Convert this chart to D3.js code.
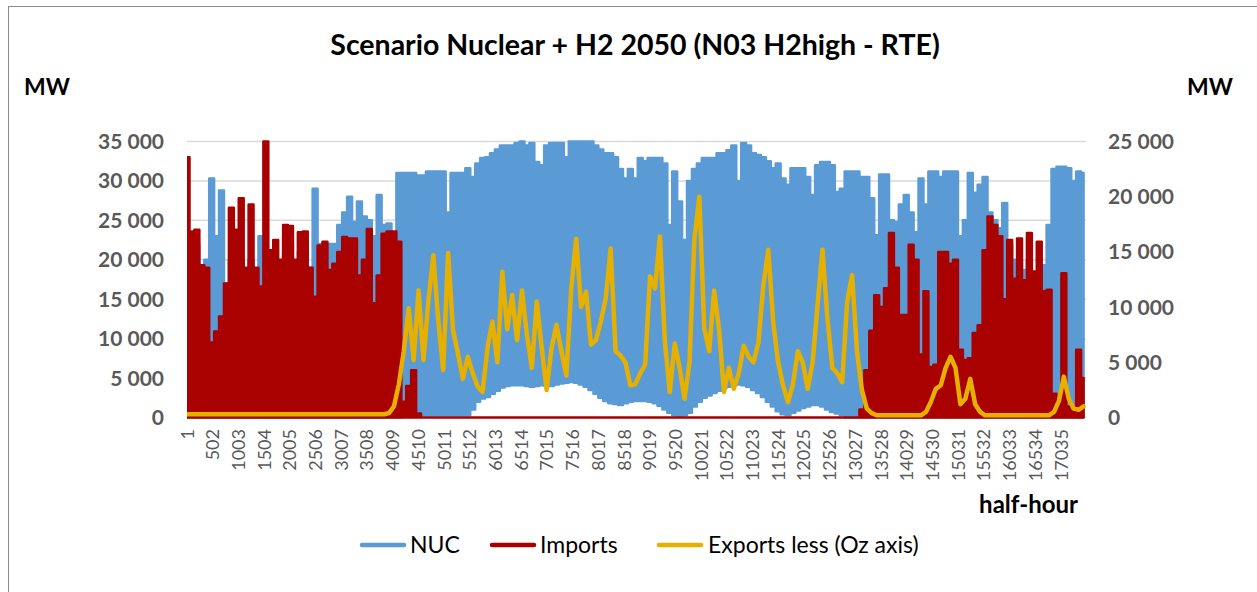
<!DOCTYPE html>
<html>
<head>
<meta charset="utf-8">
<script src="https://cdn.jsdelivr.net/npm/d3@7"></script>
<style>
  body { margin: 0; background: #fff; }
  svg { display: block; font-family: Lato, "Open Sans", sans-serif; }
</style>
</head>
<body>
<svg id="chart" width="1257" height="592"></svg>
<script>
// values, one sample every 96 half-hours (2 days)
const sampleStep = 96;
const nucMax = [
  22000, 22000, 22000, 19000, 20000, 30300, 23000, 28800, 17000, 20000,
  20000, 20000, 18000, 20000, 18000, 23000, 20000, 20000, 20000, 19000,
  21000, 22000, 19000, 21000, 22000, 19000, 29000, 22000, 22000, 22000,
  22000, 24400, 26000, 28000, 24800, 27400, 25500, 25000, 23000, 28200,
  24400, 24600, 22000, 31000, 31000, 31000, 31000, 30700, 30700, 31200,
  31200, 31200, 31200, 26000, 31000, 31000, 31000, 31600, 30500, 32200,
  32900, 33000, 33500, 34000, 34500, 34500, 34500, 34800, 35000, 34500,
  34800, 32400, 32000, 34500, 34800, 34800, 34800, 33000, 35000, 35000,
  35000, 35000, 35000, 34500, 34000, 33500, 33500, 33000, 31500, 30300,
  31500, 30300, 32900, 32500, 32900, 32900, 32900, 32200, 24400, 31200,
  27400, 22500, 30000, 31500, 32200, 32900, 32900, 32900, 33500, 33500,
  33900, 34500, 30000, 34800, 34500, 33500, 33300, 33000, 32500, 31600,
  32200, 30300, 29500, 31600, 31600, 31600, 30500, 28200, 32000, 32400,
  32400, 32000, 28600, 29000, 31200, 31200, 31200, 30500, 30500, 27800,
  23100, 30800, 30800, 25000, 24800, 27000, 28200, 26000, 23500, 30300,
  27000, 31200, 31200, 30500, 31200, 31200, 31200, 23000, 25000, 31000,
  28500, 29500, 30500, 26000, 25000, 24000, 27200, 22000, 20000, 20000,
  18700, 20000, 18000, 17000, 19300, 24400, 31500, 31800, 31800, 31600,
  30000, 31200, 31000
];
const nucMin = [
  0, 0, 0, 0, 0, 0, 0, 0, 0, 0,
  0, 0, 0, 0, 0, 0, 0, 0, 0, 0,
  0, 0, 0, 0, 0, 0, 0, 0, 0, 0,
  0, 0, 0, 0, 0, 0, 0, 0, 0, 0,
  0, 0, 0, 0, 300, 300, 300, 300, 300, 300,
  300, 300, 300, 300, 300, 300, 300, 300, 1000, 2000,
  2400, 2600, 3000, 3400, 3800, 4000, 4100, 4100, 4100, 4000,
  3900, 4000, 4100, 4000, 4000, 4200, 4300, 4400, 4500, 4400,
  4200, 3900, 3500, 3000, 2500, 2100, 1800, 1700, 1600, 1800,
  2000, 2100, 2100, 2100, 2000, 1800, 1500, 1000, 600, 300,
  200, 300, 600, 1400, 2000, 2500, 2800, 3100, 3400, 3700,
  3900, 4100, 4200, 4100, 3900, 3500, 3100, 2600, 2000, 1400,
  800, 400, 300, 600, 900, 1200, 1400, 1600, 1600, 1400,
  1000, 700, 500, 300, 0, 0, 0, 0, 0, 0,
  0, 0, 0, 0, 0, 0, 0, 0, 0, 0,
  0, 0, 0, 0, 0, 0, 0, 0, 0, 0,
  0, 0, 0, 0, 0, 0, 0, 0, 0, 0,
  0, 0, 0, 0, 0, 0, 0, 0, 0, 0,
  0, 0, 0
];
const imports = [
  33000, 23600, 23800, 19300, 19000, 9500, 10900, 12800, 17000, 26600,
  23800, 27800, 19000, 27000, 19000, 16600, 35000, 21200, 22500, 20000,
  24400, 24300, 20000, 23500, 23600, 19000, 15300, 21800, 22300, 18700,
  19500, 21000, 22900, 22700, 22700, 18000, 20000, 23900, 14500, 18000,
  23300, 23600, 23600, 22300, 2000, 4000, 6000, 500, 0, 0,
  0, 0, 0, 0, 0, 0, 0, 0, 0, 0,
  0, 0, 0, 0, 0, 0, 0, 0, 0, 0,
  0, 0, 0, 0, 0, 0, 0, 0, 0, 0,
  0, 0, 0, 0, 0, 0, 0, 0, 0, 0,
  0, 0, 0, 0, 0, 0, 0, 0, 0, 0,
  0, 0, 0, 0, 0, 0, 0, 0, 0, 0,
  0, 0, 0, 0, 0, 0, 0, 0, 0, 0,
  0, 0, 0, 0, 0, 0, 0, 0, 0, 0,
  0, 0, 0, 0, 0, 0, 0, 1000, 6000, 11000,
  15500, 14000, 16400, 23400, 19000, 13000, 13000, 21900, 20000, 8000,
  16000, 6400, 6700, 21000, 21000, 19500, 20000, 8600, 7300, 7500,
  10700, 11700, 21200, 25500, 24400, 23000, 15000, 22500, 17600, 22700,
  17400, 23400, 18500, 22300, 16000, 16200, 3000, 2000, 18300, 1400,
  1000, 8600, 5000
];
const exportsLess = [
  300, 300, 300, 300, 300, 300, 300, 300, 300, 300,
  300, 300, 300, 300, 300, 300, 300, 300, 300, 300,
  300, 300, 300, 300, 300, 300, 300, 300, 300, 300,
  300, 300, 300, 300, 300, 300, 300, 300, 300, 300,
  300, 400, 1000, 3000, 6000, 9900, 5200, 11500, 5200, 10600,
  14700, 8800, 4300, 14900, 7900, 5800, 3500, 5500, 4000, 2800,
  2300, 6300, 8700, 5000, 13200, 8000, 11100, 7000, 11500, 7500,
  4500, 10500, 6300, 2500, 6300, 8400, 6000, 3800, 11700, 16200,
  10000, 11400, 6600, 7000, 8700, 10800, 15300, 6000, 5600, 5000,
  2900, 3000, 4000, 4800, 12800, 11700, 16400, 6900, 2300, 6700,
  4500, 1700, 5000, 16200, 20000, 8100, 6000, 11500, 8000, 2300,
  4500, 2600, 4000, 6500, 5500, 5000, 6800, 12000, 15200, 8600,
  5000, 2900, 1400, 3000, 6000, 5000, 2600, 5000, 10200, 15200,
  9000, 4500, 4000, 3200, 10400, 12900, 6000, 2500, 800, 400,
  200, 200, 200, 200, 200, 200, 200, 200, 200, 200,
  500, 1400, 2600, 2900, 4500, 5500, 4500, 1200, 1700, 3500,
  1200, 500, 200, 200, 200, 200, 200, 200, 200, 200,
  200, 200, 200, 200, 200, 200, 500, 1500, 3700, 1700,
  800, 700, 1000
];
const xTicks = [
  1, 502, 1003, 1504, 2005, 2506, 3007, 3508, 4009, 4510, 5011, 5512,
  6013, 6514, 7015, 7516, 8017, 8518, 9019, 9520, 10021, 10522, 11023,
  11524, 12025, 12526, 13027, 13528, 14029, 14530, 15031, 15532, 16033,
  16534, 17035
];
const leftTicks = [0, 5000, 10000, 15000, 20000, 25000, 30000, 35000];
const rightTicks = [0, 5000, 10000, 15000, 20000, 25000];
const seriesNames = ["NUC", "Imports", "Exports less (Oz axis)"];
const colors = ["#5B9BD5", "#A90000", "#E6B000"];
const totalHalfHours = 17520;

const svg = d3.select("#chart");
const plotLeft = 187;
const plotRight = 1086;
const plotTop = 141.5;
const plotBottom = 417.5;

const fmt = d3.formatLocale({
  decimal: ",",
  thousands: " ",
  grouping: [3],
  currency: ["", ""],
}).format(",");

const rows = nucMax.map((d, i) => ({
  h: 1 + i * sampleStep,
  nucHi: d,
  nucLo: nucMin[i],
  imp: imports[i],
  exp: exportsLess[i],
}));

const xScale = d3
  .scaleLinear()
  .domain([0.5, totalHalfHours + 0.5])
  .range([plotLeft, plotRight]);
const yLeft = d3.scaleLinear().domain([0, 35000]).range([plotBottom, plotTop]);
const yRight = d3.scaleLinear().domain([0, 25000]).range([plotBottom, plotTop]);

// frame
svg
  .append("rect")
  .attr("x", 8.5)
  .attr("y", 6.5)
  .attr("width", 1400)
  .attr("height", 800)
  .attr("fill", "#fff")
  .attr("stroke", "#8c8c8c");

// gridlines
svg
  .append("g")
  .attr("class", "grid")
  .selectAll("line")
  .data(leftTicks)
  .enter()
  .append("line")
  .attr("x1", plotLeft)
  .attr("x2", plotRight)
  .attr("y1", (d) => yLeft(d))
  .attr("y2", (d) => yLeft(d))
  .attr("stroke", "#d9d9d9")
  .attr("stroke-width", 1.5);

svg
  .append("clipPath")
  .attr("id", "plot-clip")
  .append("rect")
  .attr("x", plotLeft)
  .attr("y", plotTop - 6)
  .attr("width", plotRight - plotLeft)
  .attr("height", plotBottom - plotTop + 12);

const plot = svg.append("g").attr("clip-path", "url(#plot-clip)");

const nucArea = d3
  .area()
  .x((d) => xScale(d.h))
  .y0((d) => yLeft(d.nucLo))
  .y1((d) => yLeft(d.nucHi))
  .curve(d3.curveStep);
plot
  .append("path")
  .datum(rows)
  .attr("d", nucArea)
  .attr("fill", colors[0])
  .attr("stroke", colors[0])
  .attr("stroke-width", 2.5)
  .attr("stroke-linejoin", "round");

const impArea = d3
  .area()
  .x((d) => xScale(d.h))
  .y0(yLeft(0))
  .y1((d) => yLeft(d.imp))
  .curve(d3.curveStep);
plot
  .append("path")
  .datum(rows)
  .attr("d", impArea)
  .attr("fill", colors[1])
  .attr("stroke", colors[1])
  .attr("stroke-width", 2.5)
  .attr("stroke-linejoin", "round");

const expLine = d3
  .line()
  .x((d) => xScale(d.h))
  .y((d) => yRight(d.exp));
plot
  .append("path")
  .datum(rows)
  .attr("d", expLine)
  .attr("fill", "none")
  .attr("stroke", colors[2])
  .attr("stroke-width", 4.5)
  .attr("stroke-linejoin", "round")
  .attr("stroke-linecap", "round");

// left axis labels
svg
  .append("g")
  .attr("class", "y-left")
  .selectAll("text")
  .data(leftTicks)
  .enter()
  .append("text")
  .attr("x", 164)
  .attr("y", (d) => yLeft(d))
  .attr("dy", "0.36em")
  .attr("text-anchor", "end")
  .attr("font-size", "21px")
  .attr("font-weight", "bold")
  .attr("fill", "#595959")
  .text((d) => fmt(d));

// right axis labels
svg
  .append("g")
  .attr("class", "y-right")
  .selectAll("text")
  .data(rightTicks)
  .enter()
  .append("text")
  .attr("x", 1108)
  .attr("y", (d) => yRight(d))
  .attr("dy", "0.36em")
  .attr("text-anchor", "start")
  .attr("font-size", "21px")
  .attr("font-weight", "bold")
  .attr("fill", "#595959")
  .text((d) => fmt(d));

// x labels, rotated
svg
  .append("g")
  .attr("class", "x-axis")
  .selectAll("text")
  .data(xTicks)
  .enter()
  .append("text")
  .attr("transform", (d) => `translate(${xScale(d)}, 429) rotate(-90)`)
  .attr("dy", "0.36em")
  .attr("text-anchor", "end")
  .attr("font-size", "18px")
  .attr("fill", "#595959")
  .text((d) => d);

// titles
svg
  .append("text")
  .attr("x", 635)
  .attr("y", 55)
  .attr("text-anchor", "middle")
  .attr("font-size", "28.5px")
  .attr("font-weight", "bold")
  .attr("fill", "#000")
  .text("Scenario Nuclear + H2 2050 (N03 H2high - RTE)");
svg
  .append("text")
  .attr("x", 24)
  .attr("y", 95)
  .attr("font-size", "23px")
  .attr("font-weight", "bold")
  .text("MW");
svg
  .append("text")
  .attr("x", 1187)
  .attr("y", 95)
  .attr("font-size", "23px")
  .attr("font-weight", "bold")
  .text("MW");
svg
  .append("text")
  .attr("x", 1078)
  .attr("y", 513)
  .attr("text-anchor", "end")
  .attr("font-size", "24px")
  .attr("font-weight", "bold")
  .text("half-hour");

// legend
const legendX = [360, 490, 657];
const legend = svg
  .append("g")
  .attr("class", "legend")
  .selectAll("g")
  .data(seriesNames)
  .enter()
  .append("g")
  .attr("transform", (d, i) => `translate(${legendX[i]}, 545)`);
legend
  .append("line")
  .attr("x1", 2)
  .attr("x2", 44)
  .attr("stroke", (d, i) => colors[i])
  .attr("stroke-width", 4.5)
  .attr("stroke-linecap", "round");
legend
  .append("text")
  .attr("x", (d, i) => (i === 2 ? 51 : 50))
  .attr("y", 0)
  .attr("dy", "0.36em")
  .attr("font-size", "23px")
  .attr("fill", "#000")
  .text((d) => d);
</script>
</body>
</html>
